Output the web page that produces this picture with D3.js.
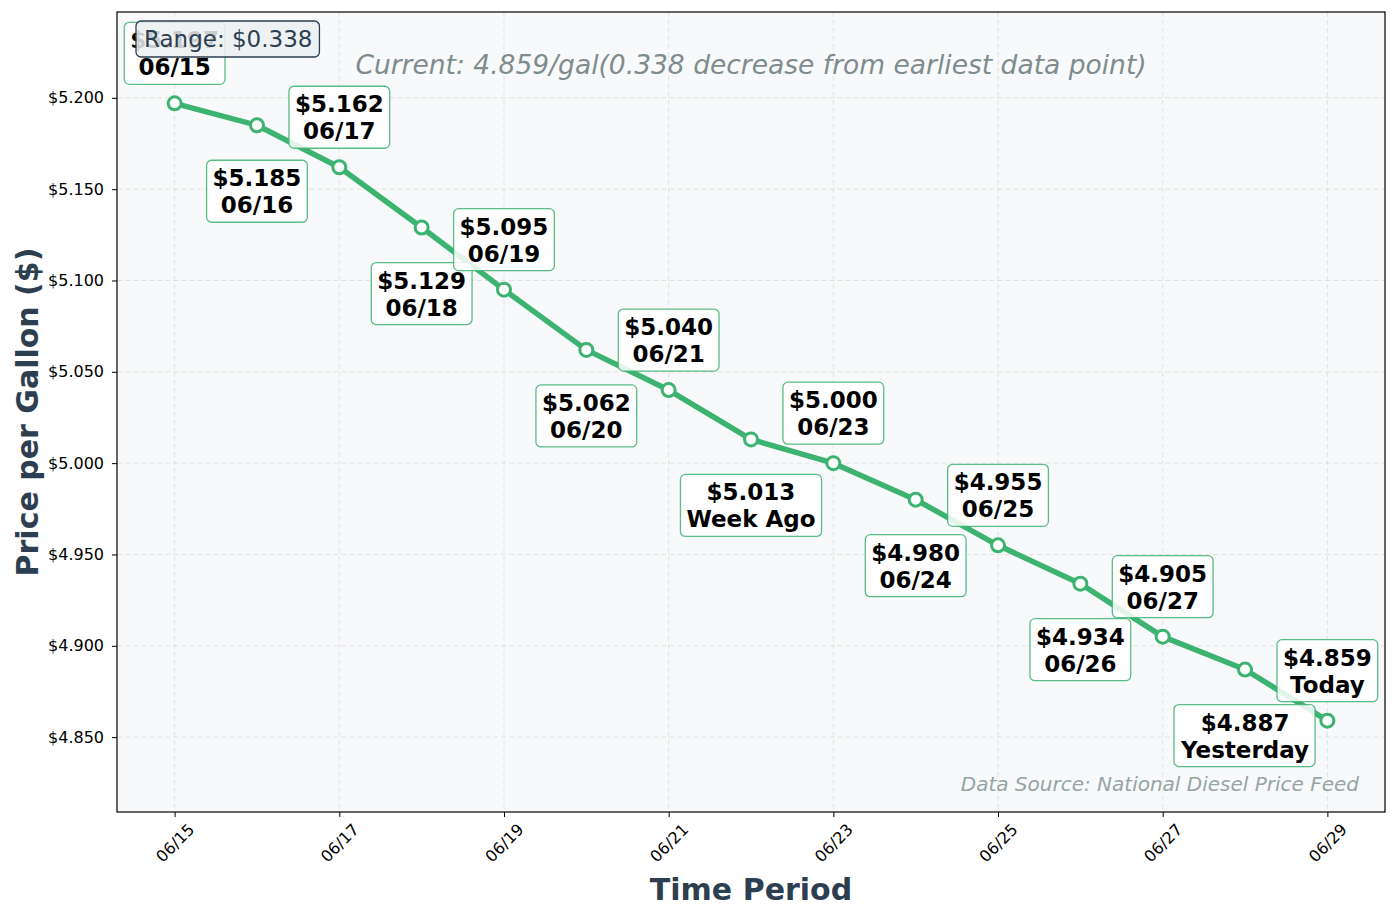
<!DOCTYPE html>
<html>
<head>
<meta charset="utf-8">
<script src="https://cdn.jsdelivr.net/npm/d3@7"></script>
<style>
  body { margin: 0; background: #fff; }
  svg { font-family: "DejaVu Sans", sans-serif; }
</style>
</head>
<body>
<div id="chart"></div>
<script>
// diesel price series, one point per day
var dates = ["06/15", "06/16", "06/17", "06/18", "06/19", "06/20", "06/21", "06/22",
             "06/23", "06/24", "06/25", "06/26", "06/27", "06/28", "06/29"]
var prices = [5.197, 5.185, 5.162, 5.129, 5.095, 5.062, 5.040, 5.013,
              5.000, 4.980, 4.955, 4.934, 4.905, 4.887, 4.859]
var pointNames = ["06/15", "06/16", "06/17", "06/18", "06/19", "06/20", "06/21", "Week Ago",
                  "06/23", "06/24", "06/25", "06/26", "06/27", "Yesterday", "Today"]
var xTickLabels = ["06/15", "06/17", "06/19", "06/21", "06/23", "06/25", "06/27", "06/29"]
var yTicks = [4.85, 4.90, 4.95, 5.00, 5.05, 5.10, 5.15, 5.20]

var W = 1397, H = 918
var plot = {left: 117, right: 1385, top: 12, bottom: 812}
var green = "#3cb371"
var font = "DejaVu Sans, sans-serif"

var svg = d3.select("#chart").append("svg")
            .attr("width", W)
            .attr("height", H)

var lo = d3.min(prices), hi = d3.max(prices)
var x = d3.scaleLinear().domain([-0.7, dates.length - 1 + 0.7]).range([plot.left, plot.right])
var y = d3.scaleLinear().domain([lo - 0.05, hi + 0.05]).range([plot.bottom, plot.top])

svg.append("rect")
   .attr("x", plot.left).attr("y", plot.top)
   .attr("width", plot.right - plot.left).attr("height", plot.bottom - plot.top)
   .attr("fill", "#f8f9fa")

// grid
var grid = svg.append("g").attr("stroke", "#c8c8c8").attr("stroke-opacity", 0.6)
                          .attr("stroke-dasharray", "5,3").attr("stroke-width", 0.8)
xTickLabels.forEach(function(t) {
  var xi = x(dates.indexOf(t))
  grid.append("line").attr("x1", xi).attr("x2", xi).attr("y1", plot.top).attr("y2", plot.bottom)
})
yTicks.forEach(function(v) {
  grid.append("line").attr("x1", plot.left).attr("x2", plot.right).attr("y1", y(v)).attr("y2", y(v))
})

// axes
var xAxis = d3.axisBottom(x)
              .tickValues(xTickLabels.map(t => dates.indexOf(t)))
              .tickFormat(i => dates[i])
              .tickSize(5).tickPadding(3)
var gx = svg.append("g").attr("transform", "translate(0," + plot.bottom + ")").call(xAxis)
            .attr("font-family", font).attr("font-size", 16)
gx.select(".domain").remove()
gx.selectAll("text")
  .attr("fill", "#000")
  .attr("text-anchor", "middle")
  .attr("dy", null).attr("y", null)
  .attr("dominant-baseline", "central")
  .attr("transform", "translate(0,31) rotate(-45)")

var yAxis = d3.axisLeft(y).tickValues(yTicks).tickFormat(v => "$" + v.toFixed(3)).tickSize(5).tickPadding(8)
var gy = svg.append("g").attr("transform", "translate(" + plot.left + ",0)").call(yAxis)
            .attr("font-family", font).attr("font-size", 16)
gy.select(".domain").remove()
gy.selectAll("text").attr("fill", "#000")

svg.append("rect")
   .attr("x", plot.left).attr("y", plot.top)
   .attr("width", plot.right - plot.left).attr("height", plot.bottom - plot.top)
   .attr("fill", "none").attr("stroke", "#000").attr("stroke-width", 1.2)

// line + markers
var line = d3.line().x((d, i) => x(i)).y(d => y(d))
svg.append("path").datum(prices)
   .attr("d", line)
   .attr("fill", "none").attr("stroke", green).attr("stroke-width", 5.5)
   .attr("stroke-linejoin", "round")

svg.selectAll("circle.pt").data(prices).enter().append("circle")
   .attr("class", "pt")
   .attr("cx", (d, i) => x(i)).attr("cy", d => y(d))
   .attr("r", 6.5)
   .attr("fill", "#fff").attr("stroke", green).attr("stroke-width", 3)

// point labels, alternating above / below
var boxH = 62
prices.forEach(function(v, i) {
  var px = x(i), py = y(v)
  var top = i % 2 == 0 ? py - 19 - boxH : py + 35
  var g = svg.append("g")
  var rect = g.append("rect")
  var t = g.append("text").attr("font-size", 23).attr("font-weight", "bold")
           .attr("text-anchor", "middle").attr("fill", "#000")
  t.append("tspan").attr("x", px).attr("y", top + 26).text("$" + v.toFixed(3))
  t.append("tspan").attr("x", px).attr("y", top + 53).text(pointNames[i])
  var bb = t.node().getBBox()
  rect.attr("x", bb.x - 6).attr("y", top)
      .attr("width", bb.width + 12).attr("height", boxH)
      .attr("rx", 5)
      .attr("fill", "#fff").attr("fill-opacity", 0.85)
      .attr("stroke", green).attr("stroke-opacity", 0.85).attr("stroke-width", 1.3)
})

// annotations
var cx = (plot.left + plot.right) / 2
svg.append("text")
   .attr("x", cx).attr("y", 74)
   .attr("text-anchor", "middle").attr("font-size", 26.5).attr("font-style", "italic")
   .attr("fill", "#7f8c8d")
   .text("Current: " + prices[prices.length - 1].toFixed(3) + "/gal(" + (prices[0] - prices[prices.length - 1]).toFixed(3) + " decrease from earliest data point)")

var rg = svg.append("g")
var rRect = rg.append("rect")
var rText = rg.append("text").attr("x", 144).attr("y", 47).attr("font-size", 23).attr("fill", "#2c3e50")
              .text("Range: $" + (hi - lo).toFixed(3))
var rb = rText.node().getBBox()
rRect.attr("x", rb.x - 8).attr("y", 21).attr("width", rb.width + 15).attr("height", 36).attr("rx", 5)
     .attr("fill", "#ecf0f1").attr("fill-opacity", 0.85)
     .attr("stroke", "#2c3e50").attr("stroke-width", 1.3)

svg.append("text")
   .attr("x", 1359).attr("y", 791)
   .attr("text-anchor", "end").attr("font-size", 20).attr("font-style", "italic")
   .attr("fill", "#95a5a6")
   .text("Data Source: National Diesel Price Feed")

svg.append("text")
   .attr("x", cx).attr("y", 900)
   .attr("text-anchor", "middle").attr("font-size", 30).attr("font-weight", "bold")
   .attr("fill", "#2c3e50")
   .text("Time Period")

svg.append("text")
   .attr("transform", "translate(27," + ((plot.top + plot.bottom) / 2) + ") rotate(-90)")
   .attr("text-anchor", "middle").attr("dominant-baseline", "central")
   .attr("font-size", 30).attr("font-weight", "bold")
   .attr("fill", "#2c3e50")
   .text("Price per Gallon ($)")
</script>
</body>
</html>
